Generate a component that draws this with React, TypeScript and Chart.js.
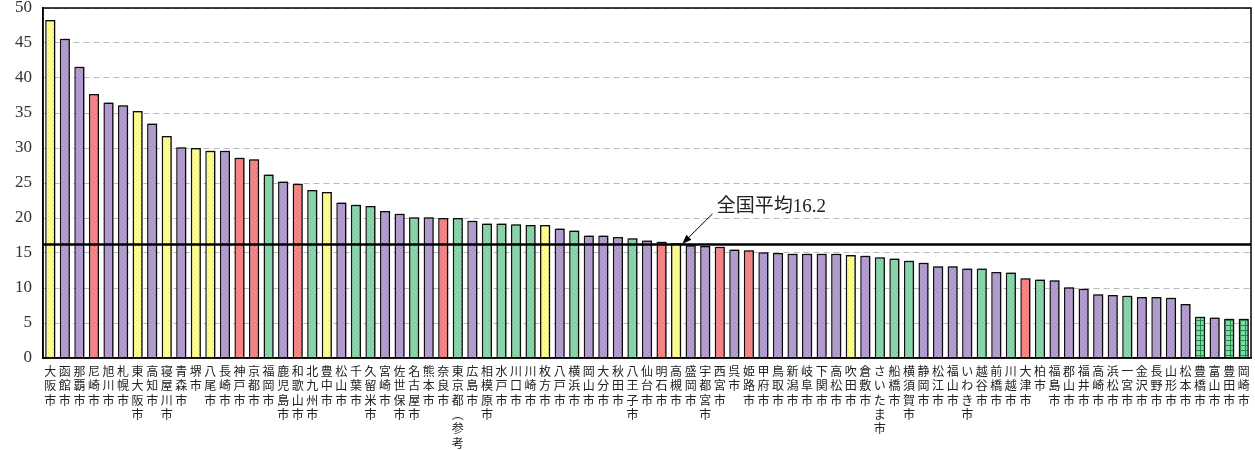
import React, { useEffect, useRef } from "react";
import { Chart, registerables } from "chart.js";

Chart.register(...registerables);

const cities: string[] = [
  "大阪市", "函館市", "那覇市", "尼崎市", "旭川市", "札幌市", "東大阪市", "高知市", "寝屋川市", "青森市",
  "堺市", "八尾市", "長崎市", "神戸市", "京都市", "福岡市", "鹿児島市", "和歌山市", "北九州市", "豊中市",
  "松山市", "千葉市", "久留米市", "宮崎市", "佐世保市", "名古屋市", "熊本市", "奈良市", "東京都(参考)", "広島市",
  "相模原市", "水戸市", "川口市", "川崎市", "枚方市", "八戸市", "横浜市", "岡山市", "大分市", "秋田市",
  "八王子市", "仙台市", "明石市", "高槻市", "盛岡市", "宇都宮市", "西宮市", "呉市", "姫路市", "甲府市",
  "鳥取市", "新潟市", "岐阜市", "下関市", "高松市", "吹田市", "倉敷市", "さいたま市", "船橋市", "横須賀市",
  "静岡市", "松江市", "福山市", "いわき市", "越谷市", "前橋市", "川越市", "大津市", "柏市", "福島市",
  "郡山市", "福井市", "高崎市", "浜松市", "一宮市", "金沢市", "長野市", "山形市", "松本市", "豊橋市",
  "富山市", "豊田市", "岡崎市",
];

const values: number[] = [
  48.3, 45.6, 41.6, 37.7, 36.5, 36.1, 35.3, 33.5, 31.7, 30.1,
  30.0, 29.6, 29.6, 28.6, 28.4, 26.2, 25.2, 24.9, 24.0, 23.7,
  22.2, 21.9, 21.7, 21.0, 20.6, 20.1, 20.1, 20.0, 20.0, 19.6,
  19.2, 19.2, 19.1, 19.0, 19.0, 18.5, 18.2, 17.5, 17.5, 17.3,
  17.1, 16.8, 16.6, 16.4, 16.1, 16.0, 15.9, 15.5, 15.4, 15.1,
  15.0, 14.9, 14.9, 14.9, 14.9, 14.7, 14.6, 14.4, 14.2, 13.9,
  13.6, 13.1, 13.1, 12.8, 12.8, 12.3, 12.2, 11.4, 11.2, 11.1,
  10.1, 9.9, 9.1, 9.0, 8.9, 8.7, 8.7, 8.6, 7.7, 5.9,
  5.8, 5.6, 5.6,
];

// Y: yellow, P: purple, R: red, G: green, H: green with grid
const groups: string[] = [
  "Y", "P", "P", "R", "P", "P", "Y", "P", "Y", "P",
  "Y", "Y", "P", "R", "R", "G", "P", "R", "G", "Y",
  "P", "G", "G", "P", "P", "G", "P", "R", "G", "P",
  "G", "G", "G", "G", "Y", "P", "G", "P", "P", "P",
  "G", "P", "R", "Y", "P", "P", "R", "P", "R", "P",
  "P", "P", "P", "P", "P", "Y", "P", "G", "G", "G",
  "P", "P", "P", "P", "G", "P", "G", "R", "G", "P",
  "P", "P", "P", "P", "G", "P", "P", "P", "P", "H",
  "P", "H", "H",
];

const yTicks = { min: 0, max: 50, step: 5 };
const nationalAverage = 16.2;
const averageLabel = "全国平均16.2";
const averageBarIndex = 43;

const baseColors: Record<string, string> = {
  Y: "#ffff80",
  P: "#b49ad4",
  R: "#ff8080",
  G: "#80d9a8",
  H: "#80d9a8",
};

function makePattern(code: string): CanvasPattern | string {
  const c = document.createElement("canvas");
  const size = code === "H" ? 5 : 4;
  c.width = size;
  c.height = size;
  const ctx = c.getContext("2d");
  if (!ctx) return baseColors[code];
  ctx.fillStyle = baseColors[code];
  ctx.fillRect(0, 0, size, size);
  if (code === "H") {
    ctx.fillStyle = "#1f8a45";
    ctx.fillRect(0, 0, size, 1);
    ctx.fillRect(0, 0, 1, size);
  } else {
    ctx.fillStyle = "rgba(0,0,0,0.10)";
    ctx.fillRect(0, 0, 1, 1);
    ctx.fillRect(2, 2, 1, 1);
    ctx.fillStyle = "rgba(255,255,255,0.12)";
    ctx.fillRect(2, 0, 1, 1);
    ctx.fillRect(0, 2, 1, 1);
  }
  const p = ctx.createPattern(c, "repeat");
  return p || baseColors[code];
}

function toVertical(label: string): string[] {
  return Array.from(label).map((ch) => (ch === "(" ? "︵" : ch === ")" ? "︶" : ch));
}

const shadowPlugin = {
  id: "barShadow",
  beforeDatasetsDraw(chart: any) {
    const ctx = chart.ctx;
    ctx.save();
    ctx.shadowColor = "rgba(0,0,0,0.45)";
    ctx.shadowBlur = 1;
    ctx.shadowOffsetX = 1.5;
    ctx.shadowOffsetY = -1.5;
  },
  afterDatasetsDraw(chart: any) {
    chart.ctx.restore();
  },
};

const averagePlugin = {
  id: "averageLine",
  afterDatasetsDraw(chart: any) {
    const { ctx, chartArea, scales } = chart;
    const x = scales.x;
    const y = scales.y;
    const yAvg = y.getPixelForValue(nationalAverage);
    ctx.save();
    ctx.strokeStyle = "#000";
    ctx.lineWidth = 2.5;
    ctx.beginPath();
    ctx.moveTo(chartArea.left, yAvg);
    ctx.lineTo(chartArea.right, yAvg);
    ctx.stroke();

    // arrow
    const tipX = x.getPixelForValue(averageBarIndex + 0.42);
    const tipY = y.getPixelForValue(nationalAverage + 0.1);
    const startX = x.getPixelForValue(averageBarIndex + 2.5);
    const startY = y.getPixelForValue(20.6);
    ctx.lineWidth = 1;
    ctx.beginPath();
    ctx.moveTo(startX, startY);
    ctx.lineTo(tipX, tipY);
    ctx.stroke();
    const ang = Math.atan2(tipY - startY, tipX - startX);
    const len = 10;
    const w = 0.36;
    ctx.fillStyle = "#000";
    ctx.beginPath();
    ctx.moveTo(tipX, tipY);
    ctx.lineTo(tipX - len * Math.cos(ang - w), tipY - len * Math.sin(ang - w));
    ctx.lineTo(tipX - len * Math.cos(ang + w), tipY - len * Math.sin(ang + w));
    ctx.closePath();
    ctx.fill();

    // label
    ctx.font = '19px "Liberation Serif", "Noto Sans CJK JP", serif';
    ctx.fillStyle = "#222";
    ctx.textAlign = "left";
    ctx.textBaseline = "middle";
    ctx.fillText(averageLabel, x.getPixelForValue(averageBarIndex + 2.8), y.getPixelForValue(21.6));
    ctx.restore();
  },
  afterDraw(chart: any) {
    const { ctx, chartArea } = chart;
    ctx.save();
    ctx.strokeStyle = "#000";
    ctx.lineWidth = 1.5;
    ctx.strokeRect(chartArea.left, chartArea.top, chartArea.right - chartArea.left, chartArea.bottom - chartArea.top);
    ctx.restore();
  },
};

export default function App() {
  const ref = useRef<HTMLCanvasElement | null>(null);

  useEffect(() => {
    if (!ref.current) return;
    const patterns: Record<string, CanvasPattern | string> = {};
    ["Y", "P", "R", "G", "H"].forEach((k) => (patterns[k] = makePattern(k)));

    const chart = new Chart(ref.current, {
      type: "bar",
      data: {
        labels: cities.map(toVertical),
        datasets: [
          {
            data: values,
            backgroundColor: groups.map((g) => patterns[g]) as any,
            borderColor: "#111",
            borderWidth: 1.5,
            barPercentage: 0.7,
            categoryPercentage: 1,
          },
        ],
      },
      options: {
        responsive: false,
        animation: false,
        layout: { padding: { top: 8, right: 4, left: 0, bottom: 0 } },
        plugins: {
          legend: { display: false },
          tooltip: { enabled: false },
        },
        scales: {
          x: {
            grid: { display: false, drawTicks: false },
            border: { color: "#000", width: 1.5 },
            ticks: {
              autoSkip: false,
              maxRotation: 0,
              minRotation: 0,
              padding: 6,
              color: "#222",
              font: { family: '"Noto Sans CJK JP"', size: 12, lineHeight: 1.2 },
            },
            afterFit(scale: any) {
              scale.height = 92;
              scale.paddingLeft = 0;
              scale.paddingRight = 0;
            },
          },
          y: {
            min: yTicks.min,
            max: yTicks.max,
            grid: { color: "#bbbbbb", lineWidth: 1, drawTicks: false },
            border: { color: "#000", width: 1.5, dash: [6, 4] },
            ticks: {
              stepSize: yTicks.step,
              padding: 11,
              color: "#333",
              font: { family: '"Liberation Serif", "DejaVu Serif", serif', size: 17 },
            },
            afterFit(scale: any) {
              scale.width = 43;
              scale.paddingTop = 0;
              scale.paddingBottom = 0;
            },
          },
        },
      },
      plugins: [shadowPlugin, averagePlugin],
    });
    return () => chart.destroy();
  }, []);

  return (
    <div style={{ position: "absolute", left: 0, top: 0, width: 1255, height: 450, background: "#fff" }}>
      <canvas ref={ref} width={1255} height={450} />
    </div>
  );
}
